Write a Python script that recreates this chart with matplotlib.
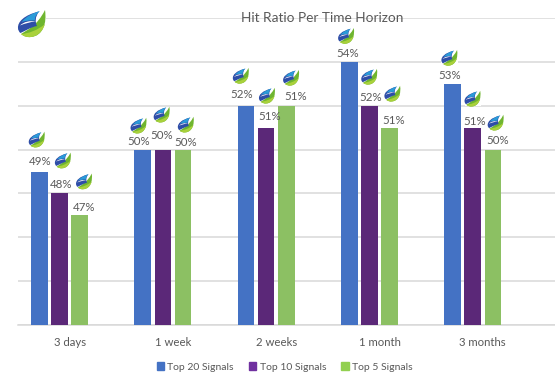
import matplotlib
matplotlib.use('Agg')
import matplotlib.pyplot as plt
import numpy as np
from matplotlib.offsetbox import AnnotationBbox, DrawingArea
from matplotlib.patches import PathPatch, Patch, Rectangle
from matplotlib.path import Path
from matplotlib.transforms import Affine2D

plt.rcParams['font.family'] = ['Lato', 'DejaVu Sans']

horizons = ['3 days', '1 week', '2 weeks', '1 month', '3 months']
top20 = [49, 50, 52, 54, 53]
top10 = [48, 50, 51, 52, 51]
top5 = [47, 50, 52, 51, 50]
top20_labels = ['49%', '50%', '52%', '54%', '53%']
top10_labels = ['48%', '50%', '51%', '52%', '51%']
top5_labels = ['47%', '50%', '51%', '51%', '50%']

# pixel nudges from the bar top, the labels dodge the logos by hand in the original
top20_text = [(0.5, 10), (-4, 8), (-4, 11), (-2, 8), (-3, 8)]
top10_text = [(1.5, 9), (-1, 14), (4, 11), (1, 8), (2, 6)]
top5_text = [(4.5, 8), (3, 7), (9, 9), (4, 7), (5, 9)]
top20_logo = [(-2.5, 32), (-4, 24), (-5, 30), (-3, 26), (-3, 26)]
top10_logo = [(3.5, 33), (-1, 35), (1, 32), (0, 29), (0, 29)]
top5_logo = [(4.5, 34), (3, 25), (5, 28), (3, 34), (3, 27)]

M, C, Z = Path.MOVETO, Path.CURVE4, Path.CLOSEPOLY
LOGO_SHAPES = [
    # green swoosh
    ('#6FB52F', [(27, 27), (29, 14), (25, 1), (13, 0), (9, -0.5), (6, 0.5), (3, 3),
                 (9, 7), (19, 11), (27, 27), (27, 27)]),
    ('#A9D13B', [(27, 13), (24, 4), (18, 0.5), (13, 0), (9, -0.5), (6, 0.5), (3, 3),
                 (11, 3.5), (20, 7), (27, 13), (27, 13)]),
    # dark blue body
    ('#2E4DA7', [(0, 9), (-0.5, 15), (6, 22), (21, 25.5), (17, 20), (17, 15), (19, 11),
                 (13, 10), (7, 6), (2.5, 4), (1, 5), (0, 7), (0, 9), (0, 9)]),
    # white gap between the blues
    ('#FFFFFF', [(2, 11.5), (7, 13.5), (12, 15), (17.5, 15.5), (12, 16.5), (6, 15.5), (2, 11.5), (2, 11.5)]),
    # light blue tip
    ('#2A9BD8', [(3.5, 15), (8, 20.5), (15, 24), (22, 26), (18, 22.5), (16.5, 19.5), (17, 16.5),
                 (12, 17), (7, 16), (3.5, 15), (3.5, 15)]),
]


def logo_path(pts):
    codes = [M] + [C] * (len(pts) - 2) + [Z]
    return Path(pts, codes)


def add_logo(ax, xy, offset, scale, coords='data'):
    w = 28 * scale
    h = 27 * scale
    da = DrawingArea(w * 0.72, h * 0.72, 0, 0)
    da.add_artist(Rectangle((0, 0), w * 0.72, h * 0.72, fc='white', ec='none'))
    for color, pts in LOGO_SHAPES:
        tr = Affine2D().scale(scale * 0.72)
        da.add_artist(PathPatch(logo_path(pts).transformed(tr), fc=color, ec='none'))
    ab = AnnotationBbox(da, xy, xybox=offset, xycoords=coords, boxcoords='offset pixels',
                        frameon=False, pad=0, box_alignment=(0.5, 0.5), zorder=4,
                        annotation_clip=False)
    ax.add_artist(ab)


fig = plt.figure(figsize=(5.55, 3.92), dpi=100)
ax = fig.add_axes([18 / 555, 1 - 325 / 392, 537 / 555, 307 / 392])

x = np.arange(len(horizons))
width = 0.16
gap = 0.195
series = [
    (top20, '#4472C4', top20_labels, top20_text, top20_logo, -gap),
    (top10, '#5B2878', top10_labels, top10_text, top10_logo, 0),
    (top5, '#8CC063', top5_labels, top5_text, top5_logo, gap),
]
for vals, color, labels, text_off, logo_off, shift in series:
    ax.bar(x + shift, vals, width, color=color, zorder=3)
    for i, v in enumerate(vals):
        add_logo(ax, (x[i] + shift, v), logo_off[i], 0.58)
        ax.annotate(labels[i], (x[i] + shift, v), xytext=text_off[i], textcoords='offset pixels',
                    ha='center', va='center', fontsize=8.3, color='#595959', zorder=5)

ax.set_xlim(-0.402, 4.797)
ax.set_ylim(42, 56)
ax.set_yticks(range(42, 57, 2))
ax.set_yticklabels([])
# category band holds an empty fourth slot, so the labels sit right of the middle bar
ax.set_xticks(x + gap / 2)
ax.set_xticklabels(horizons, fontsize=8.2, color='#595959')
ax.tick_params(length=0)
ax.tick_params(axis='x', pad=9)
ax.grid(axis='y', color='#D9D9D9', lw=1.1, zorder=0)
ax.set_axisbelow(True)
for s in ['top', 'left', 'right']:
    ax.spines[s].set_visible(False)
ax.spines['bottom'].set_color('#D9D9D9')
ax.spines['bottom'].set_linewidth(1.1)

fig.text(322.5 / 555, 1 - 17.5 / 392, 'Hit Ratio Per Time Horizon', ha='center', va='center',
         fontsize=9.85, color='#595959', zorder=6)

add_logo(ax, (32, 392 - 23.5), (0, 0), 1.0, coords='figure pixels')

handles = [Patch(color='#4472C4'), Patch(color='#7030A0'), Patch(color='#92D050')]
fig.legend(handles, ['Top 20 Signals', 'Top 10 Signals', 'Top 5 Signals'], ncol=3,
           loc='center', bbox_to_anchor=(284.5 / 555, 1 - 367 / 392), frameon=False,
           fontsize=7.5, labelcolor='#595959', handlelength=0.72, handleheight=0.72,
           handletextpad=0.3, columnspacing=1.44, borderpad=0)

fig.savefig('out.png', dpi=100)
